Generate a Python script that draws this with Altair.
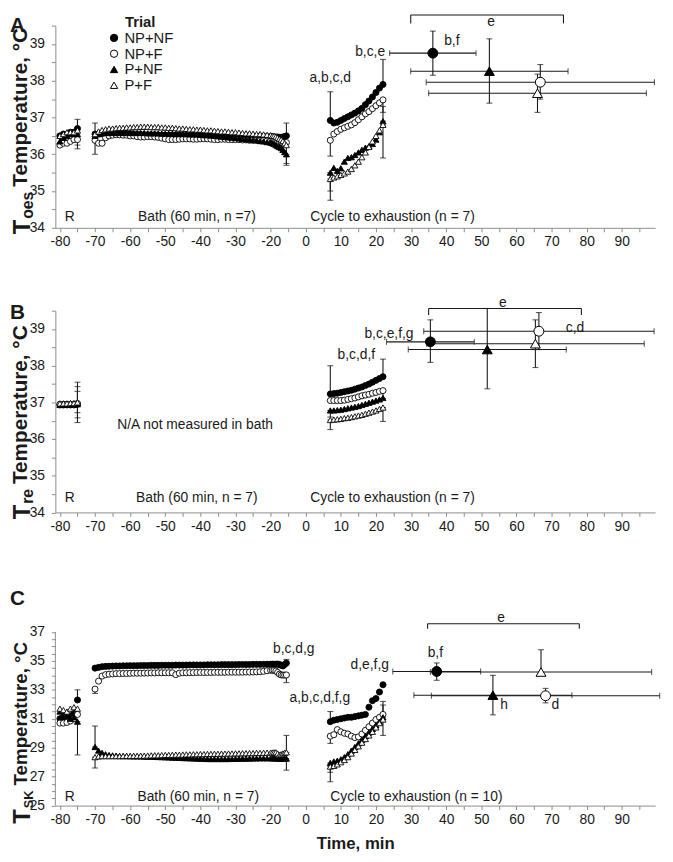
import altair as alt
import pandas as pd

FONT = "Liberation Sans"
INK = "#1a1a1a"
AXIS_GRAY = "#8c8c8c"

TRIALS = ["NP+NF", "NP+F", "P+NF", "P+F"]
SHAPES = ["circle", "circle", "triangle-up", "triangle-up"]
FILLS = ["#000000", "#ffffff", "#000000", "#ffffff"]
STROKES = ["#000000", "#000000", "#000000", "#000000"]

T_REST = [-80, -79, -78, -77, -76, -75]
T_BATH = list(range(-70, -10))
T_CYCLE = list(range(7, 23))

# ---------------- Panel A : Toes ----------------
A_REST = {
    "NP+NF": [36.5, 36.55, 36.55, 36.6, 36.6, 36.7],
    "NP+F": [36.25, 36.3, 36.3, 36.35, 36.4, 36.4],
    "P+NF": [36.35, 36.45, 36.5, 36.55, 36.55, 36.55],
    "P+F": [36.5, 36.55, 36.6, 36.6, 36.6, 36.65],
}
A_BATH = {
    "NP+NF": [36.55, 36.55, 36.56, 36.57, 36.57, 36.57, 36.56, 36.56, 36.55, 36.55,
              36.55, 36.54, 36.54, 36.54, 36.53, 36.53, 36.53, 36.53, 36.52, 36.52,
              36.52, 36.52, 36.52, 36.52, 36.52, 36.51, 36.51, 36.51, 36.51, 36.51,
              36.51, 36.51, 36.51, 36.51, 36.51, 36.50, 36.50, 36.50, 36.50, 36.50,
              36.50, 36.50, 36.50, 36.50, 36.49, 36.49, 36.49, 36.49, 36.48, 36.48,
              36.48, 36.48, 36.47, 36.47, 36.47, 36.46, 36.46, 36.47, 36.48, 36.50],
    "NP+F": [36.38, 36.30, 36.30, 36.45, 36.50, 36.52, 36.53, 36.53, 36.52, 36.52,
             36.50, 36.50, 36.48, 36.47, 36.47, 36.48, 36.48, 36.47, 36.46, 36.44,
             36.42, 36.40, 36.40, 36.40, 36.41, 36.42, 36.42, 36.42, 36.41, 36.41,
             36.42, 36.42, 36.42, 36.41, 36.40, 36.40, 36.41, 36.41, 36.40, 36.40,
             36.40, 36.40, 36.39, 36.39, 36.38, 36.38, 36.38, 36.37, 36.37, 36.36,
             36.36, 36.35, 36.35, 36.34, 36.33, 36.32, 36.32, 36.30, 36.30, 36.32],
    "P+NF": [36.50, 36.55, 36.57, 36.58, 36.58, 36.58, 36.58, 36.58, 36.58, 36.58,
             36.58, 36.58, 36.58, 36.58, 36.58, 36.57, 36.57, 36.57, 36.57, 36.56,
             36.56, 36.56, 36.56, 36.55, 36.55, 36.55, 36.55, 36.54, 36.54, 36.54,
             36.53, 36.52, 36.52, 36.51, 36.50, 36.49, 36.48, 36.47, 36.46, 36.45,
             36.44, 36.43, 36.42, 36.41, 36.40, 36.39, 36.38, 36.36, 36.35, 36.33,
             36.32, 36.30, 36.28, 36.25, 36.22, 36.20, 36.17, 36.12, 36.06, 36.00],
    "P+F": [36.55, 36.62, 36.66, 36.68, 36.70, 36.70, 36.71, 36.72, 36.72, 36.73,
            36.73, 36.74, 36.74, 36.75, 36.75, 36.75, 36.74, 36.74, 36.74, 36.73,
            36.73, 36.72, 36.72, 36.71, 36.70, 36.70, 36.69, 36.68, 36.68, 36.67,
            36.67, 36.66, 36.65, 36.65, 36.64, 36.63, 36.62, 36.62, 36.61, 36.60,
            36.60, 36.59, 36.58, 36.57, 36.57, 36.56, 36.55, 36.55, 36.54, 36.53,
            36.52, 36.50, 36.50, 36.48, 36.45, 36.42, 36.40, 36.36, 36.30, 36.25],
}
A_CYCLE = {
    "NP+NF": [36.92, 36.85, 36.87, 36.92, 36.97, 37.02, 37.07, 37.12, 37.18, 37.25, 37.35, 37.45, 37.56, 37.68, 37.80, 37.90],
    "NP+F": [36.38, 36.55, 36.62, 36.68, 36.72, 36.76, 36.80, 36.86, 36.94, 37.02, 37.10, 37.16, 37.24, 37.32, 37.40, 37.48],
    "P+NF": [35.50, 35.63, 35.55, 35.62, 35.80, 35.90, 35.92, 35.98, 36.05, 36.12, 36.18, 36.22, 36.28, 36.40, 36.60, 36.90],
    "P+F": [35.33, 35.37, 35.40, 35.44, 35.48, 35.53, 35.60, 35.70, 35.80, 35.92, 36.05, 36.20, 36.35, 36.50, 36.65, 36.80],
}
A_EB_T = [-75, -75, -75, -70, -70, -11, -11, -11, 7, 7, 7, 7, 22, 22, 22, 22]
A_EB_LO = [36.70, 36.25, 36.15, 36.55, 36.00, 36.50, 35.70, 35.75, 36.92, 35.95, 35.00, 34.75, 37.90, 37.14, 35.90, 36.80]
A_EB_HI = [36.95, 36.55, 36.40, 36.85, 36.38, 36.85, 36.00, 36.32, 37.70, 36.38, 35.50, 35.33, 38.58, 37.48, 36.90, 37.30]
A_SUM_X = [36.2, 66.8, 52.3, 66.0]
A_SUM_Y = [38.75, 37.96, 38.26, 37.66]
A_SUM_XERR = [12.3, 32.5, 22.4, 31.0]
A_SUM_YLO = [38.15, 37.50, 37.39, 37.14]
A_SUM_YHI = [39.35, 38.44, 39.14, 38.18]
A_BRACKET = (29.9, 73.4, 39.79, 39.56)
A_TEXT = [
    ("a,b,c,d", 7.0, 38.08, "center"),
    ("b,c,e", 22.6, 38.78, "right"),
    ("b,f", 41.6, 39.09, "center"),
    ("e", 52.8, 39.60, "center"),
    ("R", -77.2, 34.3, "center"),
    ("Bath (60 min, n =7)", -41.0, 34.3, "center"),
    ("Cycle to exhaustion (n = 7)", 1.3, 34.3, "left"),
]

# ---------------- Panel B : Tre ----------------
B_REST = {
    "NP+NF": [36.93, 36.93, 36.93, 36.93, 36.93, 36.95],
    "NP+F": [36.95, 36.95, 36.95, 36.95, 36.95, 36.97],
    "P+NF": [36.93, 36.94, 36.94, 36.94, 36.94, 36.95],
    "P+F": [36.97, 36.97, 36.97, 36.98, 36.98, 37.00],
}
B_CYCLE = {
    "NP+NF": [37.23, 37.24, 37.25, 37.27, 37.29, 37.31, 37.33, 37.36, 37.39, 37.42, 37.46, 37.50, 37.55, 37.60, 37.65, 37.70],
    "NP+F": [37.05, 37.05, 37.05, 37.05, 37.06, 37.08, 37.10, 37.12, 37.15, 37.18, 37.20, 37.22, 37.25, 37.27, 37.30, 37.32],
    "P+NF": [36.78, 36.78, 36.79, 36.80, 36.82, 36.84, 36.86, 36.88, 36.90, 36.93, 36.96, 36.99, 37.02, 37.05, 37.08, 37.12],
    "P+F": [36.52, 36.53, 36.54, 36.55, 36.57, 36.58, 36.60, 36.62, 36.64, 36.66, 36.69, 36.72, 36.75, 36.78, 36.82, 36.86],
}
B_EB_T = [-75, -75, -75, 7, 7, 7, 22, 22, 22]
B_EB_LO = [36.45, 36.58, 36.72, 37.23, 36.26, 36.60, 37.70, 36.48, 37.10]
B_EB_HI = [37.55, 37.43, 37.30, 38.00, 36.52, 36.78, 38.18, 36.86, 37.32]
B_SUM_X = [35.5, 66.4, 51.7, 65.4]
B_SUM_Y = [38.65, 38.94, 38.44, 38.60]
B_SUM_XERR = [12.5, 32.8, 22.5, 31.0]
B_SUM_YLO = [38.09, 38.44, 37.37, 37.95]
B_SUM_YHI = [39.25, 39.45, 39.56, 39.25]
B_BRACKET = (35.0, 78.5, 39.56, 39.38)
B_TEXT = [
    ("N/A not measured in bath", -41.5, 36.38, "center"),
    ("b,c,d,f", 14.4, 38.28, "center"),
    ("b,c,e,f,g", 30.7, 38.87, "right"),
    ("c,d", 76.7, 39.03, "center"),
    ("e", 56.1, 39.72, "center"),
    ("R", -77.2, 34.4, "center"),
    ("Bath (60 min, n = 7)", -41.0, 34.4, "center"),
    ("Cycle to exhaustion (n = 7)", 1.3, 34.4, "left"),
]

# ---------------- Panel C : Tsk ----------------
C_REST = {
    "NP+NF": [31.0, 31.0, 31.1, 31.2, 31.4, 32.3],
    "NP+F": [30.7, 30.7, 30.75, 30.85, 31.0, 31.3],
    "P+NF": [31.5, 31.4, 31.2, 31.0, 31.1, 30.8],
    "P+F": [31.7, 31.6, 31.5, 31.7, 31.8, 31.7],
}
C_BATH = {
    "NP+NF": [34.50, 34.55, 34.60, 34.62, 34.63, 34.64, 34.65, 34.65, 34.66, 34.66,
              34.67, 34.67, 34.67, 34.68, 34.68, 34.68, 34.69, 34.69, 34.69, 34.70,
              34.70, 34.70, 34.70, 34.71, 34.71, 34.71, 34.71, 34.72, 34.72, 34.72,
              34.72, 34.72, 34.73, 34.73, 34.73, 34.73, 34.74, 34.74, 34.74, 34.74,
              34.74, 34.75, 34.75, 34.75, 34.75, 34.76, 34.76, 34.76, 34.76, 34.77,
              34.77, 34.77, 34.77, 34.77, 34.78, 34.75, 34.70, 34.65, 34.75, 34.85],
    "NP+F": [33.05, 33.60, 33.95, 34.05, 34.08, 34.10, 34.12, 34.12, 34.13, 34.13,
             34.14, 34.15, 34.15, 34.15, 34.16, 34.16, 34.17, 34.17, 34.18, 34.18,
             34.18, 34.18, 34.18, 34.05, 34.15, 34.18, 34.18, 34.19, 34.19, 34.20,
             34.20, 34.20, 34.20, 34.20, 34.21, 34.21, 34.21, 34.21, 34.22, 34.22,
             34.22, 34.22, 34.22, 34.23, 34.23, 34.23, 34.24, 34.25, 34.28, 34.32,
             34.35, 34.36, 34.35, 34.30, 34.20, 34.08, 34.03, 34.02, 34.02, 34.03],
    "P+NF": [29.05, 28.80, 28.65, 28.55, 28.50, 28.47, 28.45, 28.43, 28.42, 28.42,
             28.41, 28.40, 28.40, 28.40, 28.39, 28.38, 28.38, 28.37, 28.36, 28.35,
             28.34, 28.33, 28.32, 28.31, 28.30, 28.29, 28.28, 28.27, 28.26, 28.25,
             28.24, 28.23, 28.22, 28.22, 28.22, 28.22, 28.22, 28.22, 28.22, 28.23,
             28.23, 28.24, 28.24, 28.25, 28.25, 28.26, 28.26, 28.27, 28.27, 28.27,
             28.27, 28.27, 28.27, 28.26, 28.26, 28.25, 28.25, 28.24, 28.24, 28.25],
    "P+F": [28.35, 28.40, 28.42, 28.42, 28.42, 28.42, 28.42, 28.42, 28.43, 28.43,
            28.43, 28.44, 28.44, 28.45, 28.45, 28.46, 28.47, 28.48, 28.48, 28.49,
            28.50, 28.50, 28.51, 28.52, 28.52, 28.53, 28.54, 28.54, 28.55, 28.55,
            28.56, 28.56, 28.57, 28.57, 28.58, 28.58, 28.59, 28.59, 28.60, 28.60,
            28.61, 28.61, 28.62, 28.62, 28.63, 28.63, 28.64, 28.64, 28.65, 28.66,
            28.66, 28.67, 28.68, 28.68, 28.60, 28.50, 28.55, 28.60, 28.65, 28.68],
}
C_CYCLE = {
    "NP+NF": [30.80, 30.90, 30.95, 31.00, 31.05, 31.10, 31.10, 31.15, 31.20, 31.25, 31.30, 31.80, 32.25, 32.40, 32.85, 33.35],
    "NP+F": [29.80, 29.90, 30.25, 30.10, 30.00, 29.95, 29.80, 29.70, 29.75, 29.95, 30.20, 30.45, 30.70, 30.95, 31.10, 31.30],
    "P+NF": [27.95, 28.05, 28.10, 28.20, 28.35, 28.55, 28.80, 29.05, 29.30, 29.55, 29.80, 30.05, 30.30, 30.55, 30.80, 31.10],
    "P+F": [27.70, 27.75, 27.85, 28.00, 28.15, 28.35, 28.60, 28.85, 29.10, 29.35, 29.60, 29.85, 30.10, 30.40, 30.70, 30.95],
}
C_EB_T = [-75, -75, -70, -70, -70, -11, -11, -11, -11, 7, 7, 7, 7, 22, 22, 22]
C_EB_LO = [32.30, 28.50, 32.75, 29.05, 27.60, 34.85, 33.50, 28.68, 27.45, 30.80, 29.30, 26.65, 27.30, 29.85, 31.10, 31.30]
C_EB_HI = [33.00, 30.80, 33.05, 30.50, 28.35, 35.10, 34.03, 29.85, 28.25, 31.50, 29.80, 27.70, 27.95, 30.95, 32.20, 31.95]
C_SUM_X = [37.3, 68.3, 53.3, 67.0]
C_SUM_Y = [34.27, 32.59, 32.63, 34.23]
C_SUM_XERR = [12.5, 32.5, 22.5, 31.5]
C_SUM_YLO = [33.66, 32.10, 31.27, 34.23]
C_SUM_YHI = [34.86, 33.10, 34.00, 35.77]
C_BRACKET = (34.7, 77.9, 37.57, 37.23)
C_TEXT = [
    ("b,c,d,g", -6.8, 35.82, "center"),
    ("a,b,c,d,f,g", 4.0, 32.4, "center"),
    ("d,e,f,g", 23.7, 34.68, "right"),
    ("b,f", 36.9, 35.55, "center"),
    ("h", 56.5, 31.95, "center"),
    ("d", 71.1, 31.95, "center"),
    ("e", 55.6, 37.98, "center"),
    ("R", -77.2, 25.6, "center"),
    ("Bath (60 min, n = 7)", -40.6, 25.6, "center"),
    ("Cycle to exhaustion (n = 10)", 7.0, 25.6, "left"),
]

# ---------------- scales / axes ----------------
PLOT_W = 608
X_TICKS = list(range(-80, -15, 5)) + [-10] + list(range(0, 100, 5))
XSCALE = alt.Scale(domain=[-81.3, -20, 0, 99.5], range=[0, 218.2, 253.8, PLOT_W], nice=False, zero=False)
SHAPE_SCALE = alt.Scale(domain=TRIALS, range=SHAPES)
FILL_SCALE = alt.Scale(domain=TRIALS, range=FILLS)
STROKE_SCALE = alt.Scale(domain=TRIALS, range=STROKES)

LEGEND = alt.Legend(
    title="Trial", orient="none", legendX=52, legendY=-11, padding=0,
    titleFont=FONT, titleFontSize=15, titleFontWeight="bold", titleColor=INK,
    titleAnchor="middle", titlePadding=1,
    labelFont=FONT, labelFontSize=15, labelColor=INK, labelOffset=3,
    symbolSize=55, symbolStrokeWidth=1, rowPadding=0,
)

BOLD_W = {"T": .611, "e": .556, "m": .889, "p": .611, "r": .389, "a": .556, "t": .333,
          "u": .611, ",": .278, " ": .278, "°": .4, "C": .722, "o": .611, "s": .556,
          "S": .667, "K": .722}


def bold_width(s, size):
    return sum(BOLD_W.get(c, 0.6) for c in s) * size


ONE = pd.DataFrame({"k": [0]})


def pix_text(txt, x, y, size, bold=True, angle=0, align="left", baseline="alphabetic"):
    kw = dict(text=txt, font=FONT, fontSize=size, color=INK, align=align, baseline=baseline)
    if bold:
        kw["fontWeight"] = "bold"
    if angle:
        kw["angle"] = angle
    return alt.Chart(ONE).mark_text(**kw).encode(x=alt.value(x), y=alt.value(y))


def build_panel(blocks, eb, summ, bracket, texts, ydom, height, yvals, ylab, ydomain_line,
                xtitle, legend, sub, sub_size, main_size, t_bottom, letter, letter_y, extra_rule=None,
                anchor=False):
    rows = []
    for times, vals in blocks:
        for tr in TRIALS:
            for t, v in zip(times, vals[tr]):
                rows.append({"x": t, "y": v, "trial": tr})
    sdf = pd.DataFrame(rows)

    seg, hcap, vcap = [], [], []
    for t, lo, hi in zip(*eb):
        seg.append({"x": t, "x2": t, "y": lo, "y2": hi})
        hcap += [{"x": t, "y": lo}, {"x": t, "y": hi}]
    sx, sy, sxe, slo, shi = summ
    for x, y, xe, lo, hi in zip(sx, sy, sxe, slo, shi):
        seg.append({"x": x, "x2": x, "y": lo, "y2": hi})
        seg.append({"x": x - xe, "x2": x + xe, "y": y, "y2": y})
        hcap += [{"x": x, "y": lo}, {"x": x, "y": hi}]
        vcap += [{"x": x - xe, "y": y}, {"x": x + xe, "y": y}]
    x1, x2, yt, yb = bracket
    seg += [{"x": x1, "x2": x2, "y": yt, "y2": yt},
            {"x": x1, "x2": x1, "y": yb, "y2": yt},
            {"x": x2, "x2": x2, "y": yb, "y2": yt}]
    sumdf = pd.DataFrame({"x": sx, "y": sy, "trial": TRIALS})

    ys = alt.Scale(domain=ydom, nice=False, zero=False)
    xax = alt.Axis(values=X_TICKS,
                   labelExpr="(datum.value % 10 === 0 && datum.value !== -10) ? datum.value : ''",
                   title=xtitle, grid=False, domainColor=AXIS_GRAY, tickColor=AXIS_GRAY, tickSize=4,
                   labelFont=FONT, labelFontSize=14, labelColor=INK, labelPadding=3,
                   labelOverlap=False, titleFont=FONT, titleFontSize=17, titleFontWeight="bold",
                   titleColor=INK, titlePadding=9)
    yax = alt.Axis(values=yvals, labelExpr=ylab, title=None, grid=False, domain=ydomain_line,
                   domainColor=AXIS_GRAY, tickColor=AXIS_GRAY, tickSize=4, labelFont=FONT,
                   labelFontSize=14, labelColor=INK, labelPadding=7, labelOverlap=False)
    X = lambda f: alt.X(f, type="quantitative", scale=XSCALE, axis=xax)
    Y = lambda f: alt.Y(f, type="quantitative", scale=ys, axis=yax)

    def symbol_enc():
        return dict(shape=alt.Shape("trial:N", scale=SHAPE_SCALE, legend=legend),
                    fill=alt.Fill("trial:N", scale=FILL_SCALE, legend=legend),
                    stroke=alt.Stroke("trial:N", scale=STROKE_SCALE, legend=legend))

    layers = []
    if extra_rule is not None:
        layers.append(alt.Chart(pd.DataFrame({"y": [extra_rule[0]], "y2": [extra_rule[1]]}))
                      .mark_rule(color=AXIS_GRAY, strokeWidth=1)
                      .encode(x=alt.value(0), y=Y("y"), y2="y2:Q"))
    layers.append(alt.Chart(pd.DataFrame(seg)).mark_rule(color=INK, strokeWidth=1.1)
                  .encode(x=X("x"), x2="x2:Q", y=Y("y"), y2="y2:Q"))
    layers.append(alt.Chart(pd.DataFrame(hcap)).mark_tick(orient="horizontal", size=6, thickness=1.1, color=INK)
                  .encode(x=X("x"), y=Y("y")))
    if vcap:
        layers.append(alt.Chart(pd.DataFrame(vcap)).mark_tick(orient="vertical", size=6, thickness=1.1, color=INK)
                      .encode(x=X("x"), y=Y("y")))
    layers.append(alt.Chart(sdf).mark_point(filled=True, strokeWidth=0.9, size=38, opacity=1)
                  .encode(x=X("x"), y=Y("y"), **symbol_enc()))
    layers.append(alt.Chart(sumdf).mark_point(filled=True, strokeWidth=1, size=100, opacity=1)
                  .encode(x=X("x"), y=Y("y"), **symbol_enc()))
    tdf = pd.DataFrame(texts, columns=["label", "x", "y", "align"])
    for al in ["center", "left", "right"]:
        sub_df = tdf[tdf["align"] == al]
        if len(sub_df):
            layers.append(alt.Chart(sub_df).mark_text(font=FONT, fontSize=14, color=INK, align=al, baseline="middle")
                          .encode(x=X("x"), y=Y("y"), text="label:N"))
    # y-axis title made of pieces (T + subscript + rest)
    wT = bold_width("T", 24)
    ws = bold_width(sub, sub_size)
    layers.append(pix_text("T", -25.5, t_bottom, 24, angle=270))
    layers.append(pix_text(sub, -22.5, t_bottom - wT - 1, sub_size, angle=270))
    layers.append(pix_text("Temperature, °C", -28.5, t_bottom - wT - ws - 6, main_size, angle=270))
    layers.append(pix_text(letter, -46, letter_y, 21, baseline="middle"))
    if anchor:
        layers.append(alt.Chart(ONE).mark_point(opacity=0, size=1)
                      .encode(x=alt.value(-47.5), y=alt.value(-11.2)))
    return alt.layer(*layers).properties(width=PLOT_W, height=height)


YV_AB = [34 + 0.5 * i for i in range(12)]
YV_C = [25 + 0.5 * i for i in range(25)]

pA = build_panel([(T_REST, A_REST), (T_BATH, A_BATH), (T_CYCLE, A_CYCLE)],
                 (A_EB_T, A_EB_LO, A_EB_HI),
                 (A_SUM_X, A_SUM_Y, A_SUM_XERR, A_SUM_YLO, A_SUM_YHI),
                 A_BRACKET, A_TEXT, [34, 39.5], 205, YV_AB,
                 "datum.value % 1 === 0 ? datum.value : ''", True, None, LEGEND,
                 "oes", 16, 21, 211.5, "A", 0, anchor=True)
pB = build_panel([(T_REST, B_REST), (T_CYCLE, B_CYCLE)],
                 (B_EB_T, B_EB_LO, B_EB_HI),
                 (B_SUM_X, B_SUM_Y, B_SUM_XERR, B_SUM_YLO, B_SUM_YHI),
                 B_BRACKET, B_TEXT, [34, 39.5], 204.5, YV_AB,
                 "datum.value % 1 === 0 ? datum.value : ''", True, None, None,
                 "re", 16, 21, 211.5, "B", 2)
pC = build_panel([(T_REST, C_REST), (T_BATH, C_BATH), (T_CYCLE, C_CYCLE)],
                 (C_EB_T, C_EB_LO, C_EB_HI),
                 (C_SUM_X, C_SUM_Y, C_SUM_XERR, C_SUM_YLO, C_SUM_YHI),
                 C_BRACKET, C_TEXT, [25, 39.5], 212.7, YV_C,
                 "datum.value % 2 === 1 ? datum.value : ''", False, "Time, min", None,
                 "SK", 13, 19, 231, "C", 3.5, extra_rule=(25, 37))

chart = (alt.vconcat(pA, pB, pC, spacing=84, bounds="flush")
         .resolve_legend(shape="independent", fill="independent", stroke="independent")
         .configure_view(stroke=None)
         .properties(padding={"left": 0, "top": 0, "right": 4, "bottom": 2}))

chart.save("out.html", embed_options={"renderer": "svg", "actions": False})
